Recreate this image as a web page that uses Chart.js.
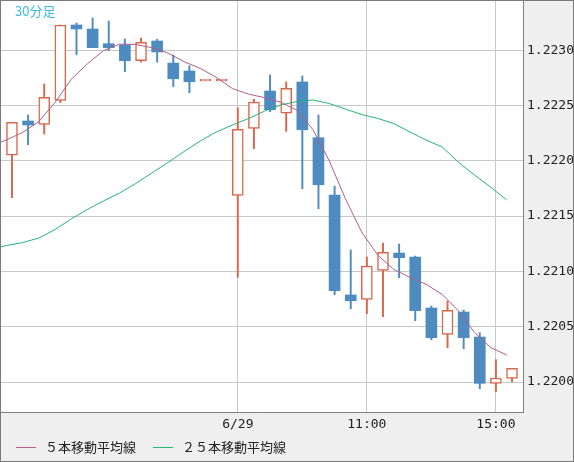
<!DOCTYPE html>
<html>
<head>
<meta charset="utf-8">
<script src="https://cdn.jsdelivr.net/npm/chart.js@4.4.0/dist/chart.umd.min.js"></script>
<style>
  html, body { margin: 0; padding: 0; background: #fff; }
  #wrap { width: 572px; height: 460px; border: 1px solid #7a7a7a; background: #efefef; position: relative; }
</style>
</head>
<body>
<div id="wrap"><canvas id="candleChart"></canvas></div>
<script>
// 30分足 ローソク足 + 移動平均線

const times = ['00:00', '00:30', '01:00', '01:30', '02:00', '02:30', '03:00', '03:30',
  '04:00', '04:30', '05:00', '05:30', '06:00', '06:30', '07:00', '07:30',
  '08:00', '08:30', '09:00', '09:30', '10:00', '10:30', '11:00', '11:30',
  '12:00', '12:30', '13:00', '13:30', '14:00', '14:30', '15:00', '15:30'];

const opens = [1.22205, 1.22236, 1.22233, 1.222547, 1.223228, 1.223192, 1.223059, 1.223047,
  1.222905, 1.223083, 1.222884, 1.222812, 1.222722, 1.222722, 1.221688, 1.222294,
  1.222631, 1.22243, 1.222713, 1.222209, 1.221691, 1.220787, 1.220748, 1.22101,
  1.221166, 1.22113, 1.220669, 1.220431, 1.220633, 1.220407, 1.219988, 1.220033];
const highs = [1.222348, 1.222414, 1.222695, 1.223228, 1.223246, 1.223291, 1.223264, 1.223101,
  1.22311, 1.223099, 1.222957, 1.22286, 1.222722, 1.222722, 1.22248, 1.222556,
  1.222776, 1.222713, 1.222767, 1.222414, 1.221772, 1.221194, 1.22113, 1.221257,
  1.221248, 1.221139, 1.220687, 1.220732, 1.220651, 1.220446, 1.220202, 1.220124];
const lows = [1.221667, 1.222146, 1.222242, 1.222525, 1.222959, 1.223023, 1.222996, 1.222806,
  1.222893, 1.222893, 1.22267, 1.222616, 1.222722, 1.222722, 1.220947, 1.22211,
  1.222444, 1.222267, 1.221748, 1.221567, 1.220789, 1.220663, 1.220618, 1.22059,
  1.220943, 1.220554, 1.220382, 1.22031, 1.220301, 1.219939, 1.219912, 1.220003];
const closes = [1.222348, 1.222324, 1.222574, 1.223228, 1.223192, 1.223023, 1.223023, 1.222905,
  1.223072, 1.222984, 1.222742, 1.222715, 1.222722, 1.222722, 1.222285, 1.222532,
  1.222462, 1.222656, 1.222281, 1.221784, 1.220826, 1.220735, 1.221049, 1.221173,
  1.221124, 1.220645, 1.220401, 1.220648, 1.220401, 1.219988, 1.220036, 1.220124];

// 移動平均線 (先頭は表示範囲の一つ前の足)
const ma5 = [1.222135, 1.222190, 1.222257, 1.222355, 1.222528, 1.222736, 1.222876, 1.222996,
  1.223055, 1.223052, 1.223023, 1.222975, 1.222896, 1.222836, 1.222755, 1.222653,
  1.222603, 1.222571, 1.222529, 1.222458, 1.222280, 1.222000, 1.221658, 1.221358,
  1.221148, 1.221018, 1.220947, 1.220884, 1.220792, 1.220645, 1.220449, 1.220313, 1.220244];
const ma25 = [1.221203, 1.221234, 1.221261, 1.221302, 1.221379, 1.221474, 1.22156, 1.221637,
  1.221709, 1.221795, 1.22189, 1.221985, 1.222084, 1.222179, 1.222261, 1.222324,
  1.222383, 1.22245, 1.222505, 1.222536, 1.22255, 1.222518, 1.222468, 1.222419,
  1.222383, 1.222337, 1.222261, 1.222188, 1.222125, 1.221989, 1.221872, 1.221763, 1.221646];

const yTicks = [1.2200, 1.2205, 1.2210, 1.2215, 1.2220, 1.2225, 1.2230];
const xTickLabels = { '07:00': '6/29', '11:00': '11:00', '15:00': '15:00' };

const UP = '#d9674c';
const DOWN = '#4d8bc0';
const MA_SHIFT = 0.33;

const isUp = opens.map((o, i) => closes[i] >= o);
const bodies = times.map((t, i) => ({ x: i, y: [opens[i], closes[i]] }));
const wicks = times.map((t, i) => ({ x: i, y: [lows[i], highs[i]] }));
const ma5Pts = ma5.map((v, i) => ({ x: i - 1 - MA_SHIFT, y: v }));
const ma25Pts = ma25.map((v, i) => ({ x: i - 1 - MA_SHIFT, y: v }));

const bgPlugin = {
  id: 'plotBg',
  beforeDraw(chart) {
    const { ctx, chartArea: a } = chart;
    ctx.save();
    ctx.fillStyle = '#ffffff';
    ctx.fillRect(a.left, a.top, a.right - a.left, a.bottom - a.top);
    ctx.restore();
  },
  afterDraw(chart) {
    const ctx = chart.ctx;
    ctx.save();
    ctx.font = '13px "Noto Sans CJK JP"';
    ctx.textBaseline = 'middle';
    ctx.fillStyle = '#3bb8ea';
    ctx.fillText('30分足', 14, 10);

    // 凡例
    const items = [
      { color: '#b35f86', text: '５本移動平均線', x: 15 },
      { color: '#26b47a', text: '２５本移動平均線', x: 152 }
    ];
    items.forEach(it => {
      ctx.strokeStyle = it.color;
      ctx.lineWidth = 1;
      ctx.beginPath();
      ctx.moveTo(it.x, 446.5);
      ctx.lineTo(it.x + 20, 446.5);
      ctx.stroke();
      ctx.fillStyle = '#222';
      ctx.fillText(it.text, it.x + 29, 446);
    });
    ctx.restore();
  }
};

Chart.defaults.font.family = '"DejaVu Sans Mono", monospace';
Chart.defaults.font.size = 13;
Chart.defaults.color = '#222';

const ctx1 = document.getElementById('candleChart').getContext('2d');
new Chart(ctx1, {
  type: 'bar',
  data: {
    datasets: [
      {
        type: 'line',
        label: '５本移動平均線',
        data: ma5Pts,
        borderColor: '#b35f86',
        borderWidth: 1,
        pointRadius: 0,
        tension: 0,
        order: 0
      },
      {
        type: 'line',
        label: '２５本移動平均線',
        data: ma25Pts,
        borderColor: '#26b47a',
        borderWidth: 1,
        pointRadius: 0,
        tension: 0,
        order: 0
      },
      {
        label: 'body',
        data: bodies,
        backgroundColor: isUp.map(u => u ? '#ffffff' : DOWN),
        borderColor: isUp.map(u => u ? UP : DOWN),
        borderWidth: isUp.map(u => u ? 1.5 : 0),
        borderSkipped: false,
        barThickness: 11,
        minBarLength: 2,
        grouped: false,
        order: 1
      },
      {
        label: 'wick',
        data: wicks,
        backgroundColor: isUp.map(u => u ? UP : DOWN),
        borderWidth: 0,
        barThickness: 1.3,
        grouped: false,
        order: 2
      }
    ]
  },
  options: {
    responsive: true,
    maintainAspectRatio: false,
    animation: false,
    layout: { padding: 0 },
    plugins: {
      legend: { display: false },
      tooltip: { enabled: false }
    },
    scales: {
      x: {
        type: 'linear',
        min: -0.68,
        max: 31.68,
        offset: false,
        grid: { color: '#c8c8c8', drawTicks: false, offset: false },
        border: { color: '#808080', width: 1 },
        ticks: {
          padding: 5,
          maxRotation: 0,
          autoSkip: false,
          callback: v => xTickLabels[times[v]] || ''
        },
        afterBuildTicks: s => {
          s.ticks = times.map((t, i) => ({ value: i })).filter(tk => xTickLabels[times[tk.value]]);
        },
        afterFit: s => {
          s.height = 49;
          s.paddingLeft = 0;
          s.paddingRight = 0;
        }
      },
      y: {
        position: 'right',
        min: 1.219729,
        max: 1.223445,
        grid: { color: '#c8c8c8', drawTicks: false },
        border: { color: '#808080', width: 1 },
        ticks: {
          padding: 4,
          callback: v => v.toFixed(4)
        },
        afterBuildTicks: s => {
          s.ticks = yTicks.map(v => ({ value: v }));
        },
        afterFit: s => {
          s.width = 50;
          s.paddingTop = 0;
          s.paddingBottom = 0;
        }
      }
    }
  },
  plugins: [bgPlugin]
});
</script>
</body>
</html>
